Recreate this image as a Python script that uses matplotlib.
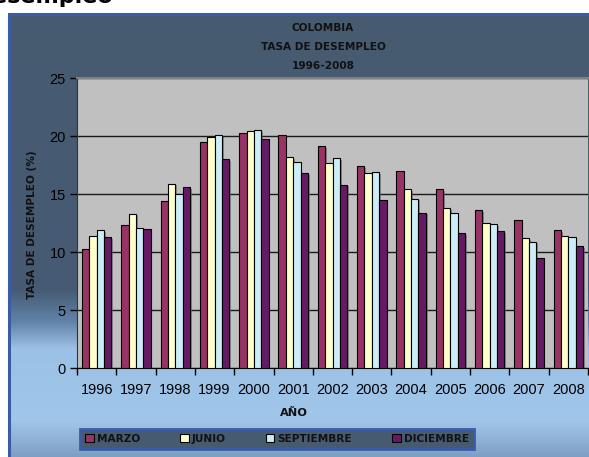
import numpy as np
import matplotlib
matplotlib.use("Agg")
import matplotlib.pyplot as plt
from matplotlib.patches import Rectangle, Patch
from matplotlib.colors import to_rgb
import matplotlib.patheffects as pe

years = ["1996", "1997", "1998", "1999", "2000", "2001", "2002",
         "2003", "2004", "2005", "2006", "2007", "2008"]
marzo = [10.3, 12.3, 14.4, 19.5, 20.3, 20.1, 19.1, 17.4, 17.0, 15.4, 13.6, 12.8, 11.9]
junio = [11.4, 13.3, 15.9, 19.9, 20.4, 18.2, 17.7, 16.8, 15.4, 13.8, 12.5, 11.2, 11.4]
septiembre = [11.9, 12.1, 15.0, 20.1, 20.5, 17.8, 18.1, 16.9, 14.6, 13.4, 12.4, 10.9, 11.3]
diciembre = [11.3, 12.0, 15.6, 18.0, 19.7, 16.8, 15.8, 14.5, 13.4, 11.6, 11.8, 9.5, 10.5]
series_names = ["MARZO", "JUNIO", "SEPTIEMBRE", "DICIEMBRE"]
series_colors = ["#993366", "#FFFFCC", "#CDEDF6", "#661A66"]

W, H = 589, 457
fig = plt.figure(figsize=(W / 100, H / 100), dpi=100)

# background gradient
bg = fig.add_axes([0, 0, 1, 1], zorder=-10)
bg.set_axis_off()
stops = [(0, "#465A70"), (290, "#475C74"), (322, "#6284AA"), (348, "#9CC1E6"),
         (420, "#A0C6EA"), (457, "#7E9EC2")]
ys = np.arange(H)
sy = [s[0] for s in stops]
cols = np.array([to_rgb(s[1]) for s in stops])
grad = np.stack([np.interp(ys, sy, cols[:, k]) for k in range(3)], axis=-1)
img = np.repeat(grad[:, None, :], W, axis=1)
img[:13, :, :] = 1.0
img[:, :8, :] = 1.0
bg.imshow(img, extent=[0, W, H, 0], aspect="auto", interpolation="bilinear")
bg.set_xlim(0, W)
bg.set_ylim(H, 0)
bg.add_patch(Rectangle((8.5, 13.5), W, H, fill=False, edgecolor="#3A5BA8", linewidth=2.2))

# top cut-off heading
fig.text(113 / W, 1 - 3 / H, "Tasa de desempleo", ha="right", va="baseline",
         fontsize=16, fontweight="bold", family="DejaVu Sans", color="black")

BOLD = "DejaVu Sans"

ax = fig.add_axes([77 / W, 1 - 368 / H, (588 - 77) / W, (368 - 78) / H])
ax.set_facecolor("#C0C0C0")
x = np.arange(len(years))
bw = 0.1875
data = [marzo, junio, septiembre, diciembre]
shadow = [pe.SimplePatchShadow(offset=(1.2, -1.2), shadow_rgbFace="#606060", alpha=0.6), pe.Normal()]
for i, (vals, c, n) in enumerate(zip(data, series_colors, series_names)):
    bars = ax.bar(x + (i - 1.5) * bw, vals, width=bw, color=c, edgecolor="black",
                  linewidth=0.8, label=n, zorder=3)
    for b in bars:
        b.set_path_effects(shadow)

ax.set_xlim(-0.5, len(years) - 0.5)
ax.set_ylim(0, 25)
ax.set_yticks([0, 5, 10, 15, 20, 25])
ax.yaxis.grid(True, color="#1a1a1a", linewidth=1.0)
ax.set_axisbelow(True)
ax.tick_params(axis="y", direction="out", length=5, width=1, labelsize=10.5, pad=3, colors="black")
ax.set_xticks(np.arange(len(years) + 1) - 0.5)
ax.set_xticklabels([])
ax.set_xticks(x, minor=True)
ax.set_xticklabels(years, minor=True)
ax.tick_params(axis="x", which="major", direction="out", length=5, width=1)
ax.tick_params(axis="x", which="minor", length=0, labelsize=10.5, pad=11)
for lab in ax.get_yticklabels() + ax.get_xticklabels(minor=True):
    lab.set_family("Liberation Sans")
ax.spines["top"].set_color("#808080")
ax.spines["top"].set_linewidth(1.5)
ax.spines["right"].set_visible(False)
ax.spines["left"].set_color("#333333")
ax.spines["bottom"].set_color("black")

tfont = dict(fontsize=7.6, fontweight="bold", family=BOLD, color="#111111", ha="center")
fig.text(323 / W, 1 - 31 / H, "COLOMBIA", va="baseline", **tfont)
fig.text(323 / W, 1 - 50 / H, "TASA DE DESEMPLEO", va="baseline", **tfont)
fig.text(323 / W, 1 - 69 / H, "1996-2008", va="baseline", **tfont)

fig.text(32 / W, 1 - 225 / H, "TASA DE DESEMPLEO (%)", rotation=90, va="center", ha="center",
         fontsize=7.6, fontweight="bold", family=BOLD, color="#111111")
fig.text(294 / W, 1 - 413 / H, "AÑO", va="center", ha="center",
         fontsize=8.2, fontweight="bold", family=BOLD, color="#111111")

handles = [Patch(facecolor=c, edgecolor="black", linewidth=0.8) for c in series_colors]
leg = fig.legend(handles, series_names, ncol=4, loc="center",
                 bbox_to_anchor=(277 / W, 1 - 439 / H), frameon=True,
                 prop=dict(family=BOLD, weight="bold", size=7.6),
                 handlelength=0.8, handleheight=0.8, handletextpad=0.3,
                 columnspacing=3.8, borderpad=0.5, borderaxespad=0,
                 fancybox=False)
leg.get_frame().set_facecolor("#475B70")
leg.get_frame().set_edgecolor("#3A5BA8")
leg.get_frame().set_linewidth(2)
leg.get_frame().set_alpha(1)
for t in leg.get_texts():
    t.set_color("#111111")

fig.savefig("out.png", dpi=100)
